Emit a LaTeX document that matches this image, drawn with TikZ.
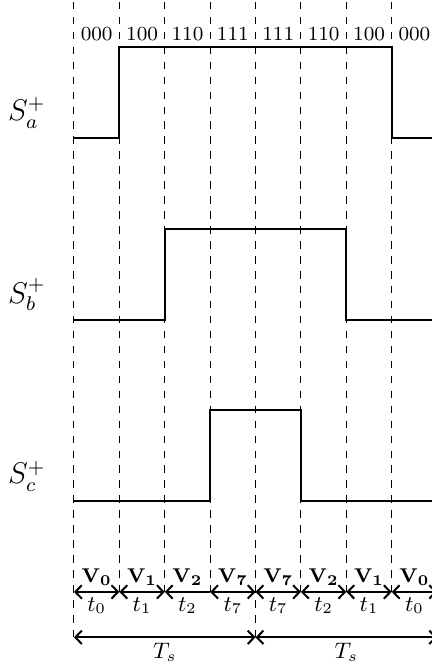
\documentclass[tikz,border=0pt]{standalone}
\usepackage{tikz}
\usetikzlibrary{arrows.meta}

\begin{document}
\begin{tikzpicture}[
  x=0.64cm,y=0.64cm,
  >={Straight Barb[length=2.6pt,width=5.4pt]},
  guide/.style={dashed,line width=.4pt},
  wave/.style={line width=.8pt},
  span/.style={line width=.8pt},
  state/.style={font=\footnotesize,above,inner sep=2.5pt},
  vec/.style={font=\footnotesize,above,inner sep=2.5pt},
  tag/.style={font=\small,inner sep=2pt},
  gate/.style={font=\large}
]
  \useasboundingbox (-1.63,-11.72) rectangle (7.87,3.04);

  % sector boundaries
  \foreach \i in {1,2,3,5,6,7}
    \draw[guide] (\i,3) -- (\i,-10);
  \foreach \i in {0,4,8}
    \draw[guide] (\i,3) -- (\i,-11);

  % switching states
  \foreach \s [count=\i from 0] in {000,100,110,111,111,110,100,000}
    \node[state] (st\i) at (\i+0.5,2) {\s};

  % gate signals
  \draw[wave] (0,0) -| (1,2) -| (7,0) -- (8,0);
  \draw[wave] (0,-4) -| (2,-2) -| (6,-4) -- (8,-4);
  \draw[wave] (0,-8) -| (3,-6) -| (5,-8) -- (8,-8);

  \node[gate] (sa) at (-1.04,0.55) {$S_a^+$};
  \node[gate] (sb) at (-1.04,-3.45) {$S_b^+$};
  \node[gate] (sc) at (-1.04,-7.45) {$S_c^+$};

  % vectors and dwell times
  \foreach \i in {0,...,8}
    \coordinate (m\i) at (\i,-10);
  \foreach \v [count=\i from 0] in {0,1,2,7,7,2,1,0} {
    \node[vec] (v\i) at (\i+0.5,-10) {$\mathbf{V_{\v}}$};
    \node[tag,below] (t\i) at (\i+0.5,-10) {$t_{\v}$};
  }
  \foreach \i/\j in {0/1,1/2,3/4,4/5,5/6,6/7,7/8}
    \draw[span,<->] (m\i) -- (m\j);
  \draw[span,<-] (m2) -- (m3);

  % switching period
  \coordinate (p0) at (0,-11);
  \coordinate (p4) at (4,-11);
  \coordinate (p8) at (8,-11);
  \draw[span,<->] (p0) -- node[tag,below] (ts1) {$T_s$} (p4);
  \draw[span,<->] (p4) -- node[tag,below] (ts2) {$T_s$} (p8);
\end{tikzpicture}
\end{document}
